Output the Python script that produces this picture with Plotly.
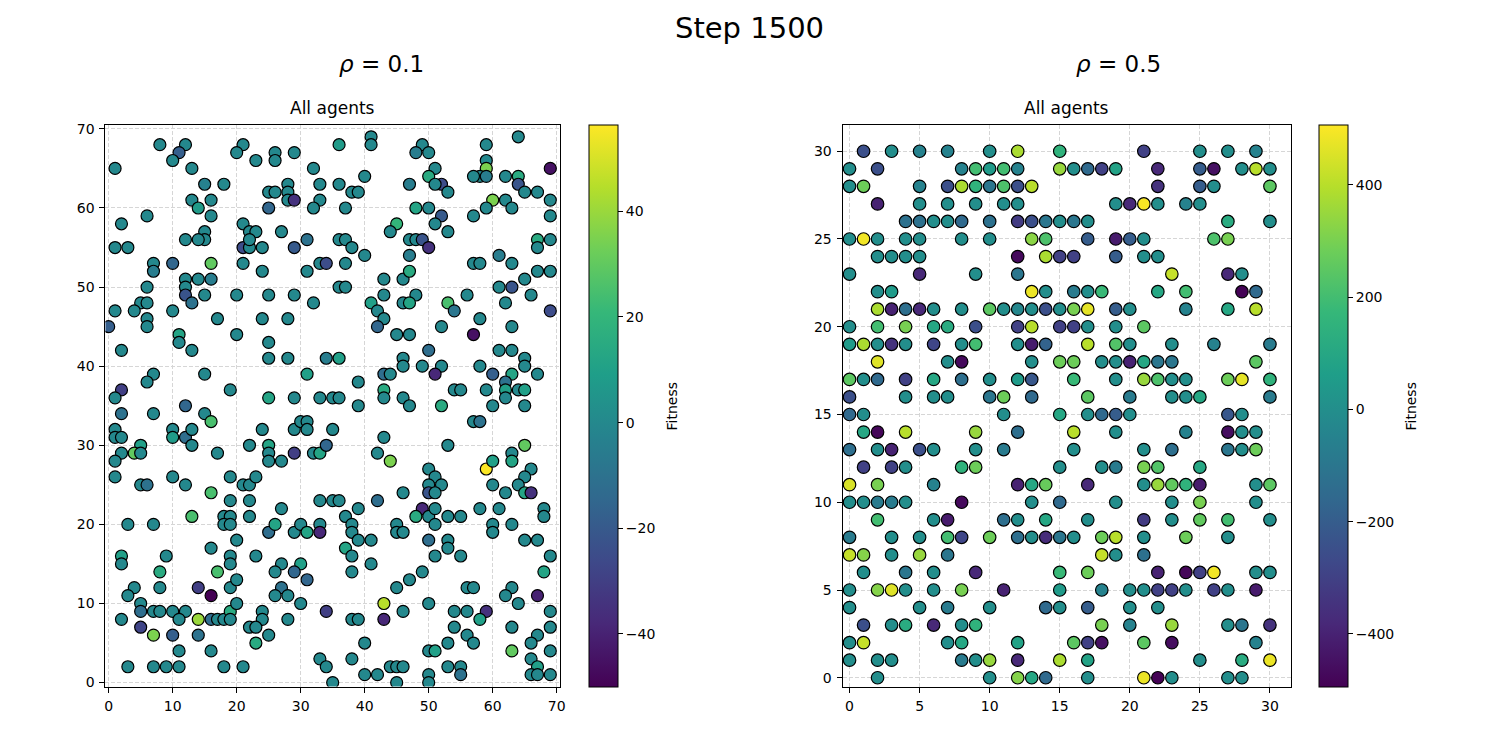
import plotly.graph_objects as go

# Left panel: rho = 0.1, agents on a 71 x 71 grid
# ------------------------------------------------------------------
left_x = [
    8, 12, 11, 10, 1, 13, 21, 20, 23, 26, 26, 29, 32, 15, 18, 25, 26, 28, 28, 28,
    29, 33, 33, 32, 13, 14, 16, 16, 25, 6, 2, 21, 22, 23, 27, 15, 15, 14, 12, 31,
    1, 3, 21, 22, 22, 24, 29, 7, 7, 10, 16, 21, 24, 31, 33, 34, 12, 14, 16, 12,
    12, 13, 15, 6, 5, 6, 4, 1, 6, 6, 10, 0, 20, 25, 29, 32, 17, 24, 28, 11,
    11, 13, 2, 20, 25, 25, 28, 34, 31, 7, 6, 15, 2, 1, 19, 25, 29, 33, 12,
    41, 41, 36, 49, 48, 50, 59, 64, 59, 59, 58, 57, 59, 51, 50, 52, 51, 53, 47, 40,
    36, 38, 39, 62, 64, 64, 65, 67, 69, 69, 69, 60, 62, 63, 59, 57, 37, 48, 50, 52,
    51, 53, 45, 44, 36, 37, 38, 40, 47, 48, 49, 50, 47, 67, 69, 67, 37, 57, 58, 61,
    63, 67, 69, 65, 36, 37, 43, 46, 47, 43, 48, 46, 47, 41, 42, 43, 42, 45, 47, 52,
    53, 54, 56, 58, 57, 61, 63, 66, 62, 63, 69, 36, 46, 46, 50, 49, 52, 51, 43, 44,
    39, 43, 43, 46, 47, 35, 36, 39, 54, 55, 52, 58, 59, 60, 61, 63, 65, 65, 63, 67,
    62, 62, 62, 64, 65, 60, 65,
    2, 7, 15, 16, 1, 1, 2, 10, 10, 12, 13, 13, 5, 4, 5, 2, 1, 1, 5, 6,
    10, 12, 17, 24, 22, 25, 25, 25, 27, 29, 30, 31, 31, 29, 32, 33, 34, 35, 19, 21,
    22, 23, 16, 19, 22, 13, 18, 19, 18, 19, 22, 27, 33, 35, 3, 7, 20, 25, 26, 29,
    30, 31, 33, 33, 2, 2, 9, 16, 19, 19, 23, 8, 17, 27, 30, 26, 29, 31, 4, 3,
    8, 14, 16, 19, 20, 27, 26, 28, 30, 5, 5, 2, 7, 8, 10, 12, 11, 14, 16, 17,
    18, 19, 19, 20, 24, 24, 22, 23, 25, 23, 28, 34, 5, 7, 10, 14, 11, 16, 3, 7,
    9, 11, 18, 21, 33, 34, 35,
    57, 58, 43, 53, 42, 44, 50, 51, 50, 52, 50, 51, 46, 42, 36, 39, 37, 38, 38, 39,
    41, 37, 38, 38, 41, 49, 48, 50, 51, 51, 53, 55, 45, 45, 46, 50, 53, 53, 51, 55,
    58, 61, 60, 60, 63, 65, 67, 68, 68, 69, 68, 59, 60, 60, 62, 63, 63, 65, 66, 65,
    64, 65, 66, 49, 47, 45, 43, 43, 46, 38, 39, 50, 40, 38, 40, 42, 44, 45, 46, 45,
    50, 51, 50, 50, 53, 53, 55, 55, 54, 56, 59, 58, 54, 56, 57, 56, 57, 63, 62, 64,
    67, 69, 63, 69, 67, 66, 63, 69, 66, 67, 66, 67, 69,
]
left_y = [
    68, 68, 67, 66, 65, 65, 68, 67, 66, 67, 66, 67, 65, 63, 63, 62, 62, 63, 62, 61,
    61, 63, 61, 60, 61, 60, 61, 59, 60, 59, 58, 58, 57, 57, 57, 57, 56, 56, 56, 56,
    55, 55, 55, 55, 56, 55, 55, 53, 52, 53, 53, 53, 52, 52, 53, 53, 51, 51, 51, 50,
    49, 48, 49, 50, 48, 48, 47, 47, 46, 45, 47, 45, 49, 49, 49, 48, 46, 46, 46, 44,
    43, 42, 42, 44, 43, 41, 41, 41, 39, 39, 38, 39, 37, 36, 37, 36, 36, 36, 35,
    69, 68, 68, 68, 67, 67, 68, 69, 66, 65, 64, 64, 64, 65, 64, 63, 63, 62, 63, 64,
    63, 62, 62, 64, 64, 63, 62, 62, 65, 61, 59, 61, 61, 60, 60, 59, 60, 60, 60, 59,
    58, 57, 58, 57, 56, 56, 55, 54, 56, 56, 56, 55, 54, 56, 56, 55, 53, 53, 53, 54,
    53, 52, 52, 51, 50, 50, 51, 51, 52, 49, 49, 48, 48, 48, 47, 46, 45, 44, 44, 45,
    48, 47, 49, 46, 44, 50, 50, 49, 48, 45, 47, 41, 41, 40, 42, 40, 40, 39, 39, 39,
    38, 37, 36, 36, 35, 36, 36, 35, 37, 37, 35, 40, 37, 39, 42, 42, 41, 40, 39, 39,
    38, 37, 36, 37, 37, 35, 35,
    34, 34, 34, 33, 32, 31, 31, 32, 31, 31, 32, 30, 30, 29, 29, 29, 28, 26, 25, 25,
    26, 25, 29, 32, 30, 30, 29, 28, 28, 32, 33, 33, 32, 29, 29, 29, 30, 32, 26, 25,
    25, 26, 24, 23, 23, 21, 21, 21, 20, 20, 21, 22, 23, 23, 20, 20, 18, 19, 20, 19,
    20, 19, 20, 19, 16, 15, 16, 17, 16, 15, 16, 14, 14, 15, 15, 14, 14, 13, 12, 11,
    12, 12, 11, 12, 13, 12, 11, 11, 10, 10, 9, 8, 9, 9, 9, 9, 8, 8, 8, 8,
    8, 9, 8, 10, 9, 8, 7, 7, 6, 5, 8, 9, 7, 6, 6, 6, 4, 4, 2, 2,
    2, 2, 2, 2, 3, 2, 0,
    33, 33, 31, 30, 29, 28, 27, 26, 25, 25, 24, 24, 24, 23, 23, 22, 21, 20, 19, 18,
    18, 17, 16, 14, 15, 22, 21, 21, 22, 20, 21, 21, 20, 19, 19, 18, 18, 17, 16, 16,
    22, 22, 20, 19, 20, 18, 18, 22, 21, 16, 14, 27, 28, 25, 24, 29, 28, 30, 27, 26,
    25, 24, 24, 14, 13, 12, 10, 8, 9, 8, 8, 10, 5, 3, 1, 1, 2, 2, 2, 0,
    4, 4, 1, 0, 5, 2, 2, 1, 9, 9, 9, 8, 7, 6, 5, 12, 12, 12, 11, 10,
    11, 9, 7, 7, 6, 5, 4, 4, 3, 2, 1, 1, 1,
]
left_fitness = [
    0, 0, -18, 0, 0, 0, 0, 0, 0, 0, 0, 0, 0, -3, 0, 0, 0, 0, 0, 0,
    -35, 0, 0, 0, 0, 8, 0, 0, -15, 0, 0, 0, 0, 0, 0, 0, 0, 0, 0, -10,
    0, 0, -25, 0, 0, 0, -20, 0, -5, -15, 30, 0, 0, 0, 0, -25, 0, 0, -5, 0,
    -22, -10, 0, 0, 0, 0, 0, 0, 0, 0, 0, -18, 0, 0, 0, 0, 0, 0, 0, 12,
    0, 0, 0, 0, 0, 0, 0, -5, 10, 0, 0, 0, -30, 0, 0, 12, 0, 0, -15,
    0, 0, 8, 0, -5, 0, 0, 0, 0, 35, 0, 0, -5, 0, 15, -25, 0, 0, -5, 0,
    0, 0, 0, 0, 15, -22, 0, 0, -45, 0, 0, 35, 0, 0, 0, 0, 0, 12, 0, -20,
    0, 0, 20, 0, 0, 0, 0, 0, 0, 0, -22, -35, -5, 15, 0, 0, 0, 0, 0, -5,
    0, 0, 0, 0, 0, 0, 0, 0, 15, 0, 0, 0, 12, 10, 0, 0, -15, 0, 0, 0,
    25, -8, 0, 0, -45, 0, -22, 0, 0, 0, -25, 10, 0, 0, -12, 0, 0, -38, -12, 0,
    0, 15, 0, 0, 0, 0, 0, 0, 0, 0, 15, 0, 0, -18, 0, 0, 0, 0, 12, 0,
    -10, 10, 0, 0, 10, 0, 0,
    -10, 0, 0, 25, 0, 0, 0, 0, 8, -12, 0, 0, 10, 30, 0, 0, 0, 0, 0, -10,
    0, 0, 0, 0, 0, 12, 0, 0, 0, 0, 0, 0, 0, -30, 0, 12, -15, 0, 0, 0,
    0, 0, 25, 0, 0, 25, 0, 0, 0, 0, 0, 0, 0, 0, 0, 0, 0, -12, 12, 0,
    0, 12, 0, -38, 10, 0, 0, 0, 0, 0, 0, 15, 25, 0, 10, 0, -15, -15, 0, 0,
    0, -30, -50, 0, 0, -10, 0, 0, 0, 0, -12, 0, 0, 0, 0, 0, 0, 40, -12, 0,
    0, 15, 0, 0, 0, 0, 0, 0, 0, 15, 0, -30, -28, 35, -18, -10, 0, 0, 0, 0,
    0, 0, 0, 0, 0, 0, 0,
    0, -10, 0, 0, 0, 35, 0, 0, 0, 0, -22, 0, 0, -12, 0, 0, 0, 0, 0, 0,
    0, 12, 0, 0, 0, -38, 15, 0, 0, 0, 0, 0, 0, 0, 0, -12, 0, 0, 0, 0,
    0, 0, 0, 0, 0, 0, 0, 0, 0, 0, 12, 56, 10, 0, 0, 0, 12, 30, 0, 0,
    0, 12, -35, 0, 0, 0, 45, -38, 0, 0, 0, 0, 0, 0, 0, 0, 0, 0, 0, 0,
    0, 10, 0, 0, 0, 0, 0, -10, 0, 0, -35, 10, 0, 0, 0, 0, 0, 0, 0, 0,
    -40, 0, 0, 0, 0, 0, 30, 0, 0, 10, 0, 0, 0,
]

# Right panel: rho = 0.5, agents on a 31 x 31 grid (one line per row, top to bottom)
# ------------------------------------------------------------------
right_x = [
    1, 3, 5, 7, 10, 12, 15, 21, 25, 27, 29,
    0, 2, 8, 9, 10, 11, 12, 15, 16, 17, 18, 19, 22, 25, 26, 28, 29, 30,
    0, 1, 5, 7, 8, 9, 10, 11, 12, 13, 22, 25, 26, 30,
    2, 5, 7, 9, 11, 12, 19, 20, 21, 22, 24, 25,
    4, 5, 6, 7, 8, 10, 12, 13, 14, 15, 16, 17, 27, 30,
    0, 1, 2, 4, 5, 8, 10, 13, 14, 17, 19, 20, 21, 26, 27,
    2, 3, 4, 5, 12, 14, 15, 16, 19, 21, 22,
    0, 5, 9, 12, 23, 27, 28,
    2, 3, 13, 14, 16, 17, 18, 22, 24, 28, 29,
    2, 3, 4, 5, 6, 8, 10, 11, 12, 13, 14, 15, 16, 17, 19, 20, 24, 27, 29,
    0, 2, 4, 6, 7, 9, 12, 13, 15, 16, 17, 19, 21,
    0, 1, 2, 3, 4, 6, 8, 9, 12, 13, 14, 17, 19, 20, 23, 26, 30,
    2, 7, 8, 13, 15, 16, 18, 19, 20, 21, 22, 23, 29,
    0, 1, 2, 4, 6, 8, 10, 12, 13, 16, 19, 21, 22, 23, 24, 27, 28, 30,
    0, 4, 6, 7, 10, 11, 13, 17, 20, 23, 24, 25, 30,
    0, 1, 11, 15, 17, 18, 19, 20, 27, 28,
    1, 2, 4, 9, 12, 16, 19, 24, 27, 28, 29,
    0, 2, 3, 5, 6, 9, 11, 16, 21, 23, 27, 28, 29,
    1, 3, 4, 8, 9, 15, 18, 19, 21, 22, 25,
    0, 2, 6, 12, 13, 14, 17, 21, 22, 23, 24, 25, 29, 30,
    0, 1, 2, 3, 4, 8, 13, 15, 19, 23, 25, 29,
    2, 6, 7, 11, 12, 14, 17, 21, 23, 25, 27, 30,
    0, 3, 5, 7, 8, 10, 12, 13, 14, 15, 16, 18, 19, 21, 24, 27,
    0, 1, 3, 5, 7, 18, 19, 21,
    1, 4, 6, 9, 15, 17, 22, 24, 25, 26, 29, 30,
    0, 2, 3, 4, 6, 8, 11, 15, 18, 20, 21, 22, 23, 24, 26, 27, 29,
    0, 5, 7, 10, 14, 15, 17, 20, 22,
    1, 3, 4, 6, 8, 9, 18, 20, 23, 27, 28, 30,
    0, 1, 7, 8, 12, 16, 17, 18, 21, 23, 29,
    0, 2, 3, 8, 9, 10, 12, 15, 17, 25, 28, 30,
    2, 10, 12, 13, 14, 17, 21, 22, 23, 27, 28,
]
right_y = [
    30, 30, 30, 30, 30, 30, 30, 30, 30, 30, 30,
    29, 29, 29, 29, 29, 29, 29, 29, 29, 29, 29, 29, 29, 29, 29, 29, 29, 29,
    28, 28, 28, 28, 28, 28, 28, 28, 28, 28, 28, 28, 28, 28,
    27, 27, 27, 27, 27, 27, 27, 27, 27, 27, 27, 27,
    26, 26, 26, 26, 26, 26, 26, 26, 26, 26, 26, 26, 26, 26,
    25, 25, 25, 25, 25, 25, 25, 25, 25, 25, 25, 25, 25, 25, 25,
    24, 24, 24, 24, 24, 24, 24, 24, 24, 24, 24,
    23, 23, 23, 23, 23, 23, 23,
    22, 22, 22, 22, 22, 22, 22, 22, 22, 22, 22,
    21, 21, 21, 21, 21, 21, 21, 21, 21, 21, 21, 21, 21, 21, 21, 21, 21, 21, 21,
    20, 20, 20, 20, 20, 20, 20, 20, 20, 20, 20, 20, 20,
    19, 19, 19, 19, 19, 19, 19, 19, 19, 19, 19, 19, 19, 19, 19, 19, 19,
    18, 18, 18, 18, 18, 18, 18, 18, 18, 18, 18, 18, 18,
    17, 17, 17, 17, 17, 17, 17, 17, 17, 17, 17, 17, 17, 17, 17, 17, 17, 17,
    16, 16, 16, 16, 16, 16, 16, 16, 16, 16, 16, 16, 16,
    15, 15, 15, 15, 15, 15, 15, 15, 15, 15,
    14, 14, 14, 14, 14, 14, 14, 14, 14, 14, 14,
    13, 13, 13, 13, 13, 13, 13, 13, 13, 13, 13, 13, 13,
    12, 12, 12, 12, 12, 12, 12, 12, 12, 12, 12,
    11, 11, 11, 11, 11, 11, 11, 11, 11, 11, 11, 11, 11, 11,
    10, 10, 10, 10, 10, 10, 10, 10, 10, 10, 10, 10,
    9, 9, 9, 9, 9, 9, 9, 9, 9, 9, 9, 9,
    8, 8, 8, 8, 8, 8, 8, 8, 8, 8, 8, 8, 8, 8, 8, 8,
    7, 7, 7, 7, 7, 7, 7, 7,
    6, 6, 6, 6, 6, 6, 6, 6, 6, 6, 6, 6,
    5, 5, 5, 5, 5, 5, 5, 5, 5, 5, 5, 5, 5, 5, 5, 5, 5,
    4, 4, 4, 4, 4, 4, 4, 4, 4,
    3, 3, 3, 3, 3, 3, 3, 3, 3, 3, 3, 3,
    2, 2, 2, 2, 2, 2, 2, 2, 2, 2, 2,
    1, 1, 1, 1, 1, 1, 1, 1, 1, 1, 1, 1,
    0, 0, 0, 0, 0, 0, 0, 0, 0, 0, 0,
]
right_fitness = [
    -250, 0, -50, -50, 0, 380, 150, -300, 0, 0, -50,
    0, -250, -50, 200, 50, 200, -50, 350, 0, -150, -300, 80, -380, -200, -450, 0, 400, 0,
    0, 280, -50, -250, 380, 150, -100, 220, -250, 400, -350, -200, 0, 250,
    -400, 0, 0, 0, 0, 0, 0, -380, 500, 0, -50, 0,
    -120, -120, 0, 0, -150, -120, -320, -250, -100, 0, -100, 0, 120, 0,
    0, 490, 0, 0, 0, 0, 0, 330, 220, -200, -420, -200, 0, 220, 300,
    0, 0, 0, 0, -470, 380, -300, -300, -200, 0, 0,
    0, -380, 0, -100, 420, -380, 0,
    0, 50, 480, 0, -80, 0, 180, 100, 200, -490, -150,
    380, -400, -130, -380, 0, 0, 250, 0, -30, 0, -250, 0, 300, 470, -200, 0, -50, 100, 400,
    0, 200, 300, 100, 120, -250, -300, 400, -300, -300, 0, 0, 250,
    50, 380, 0, -350, 0, -280, 0, 200, 0, -420, -180, 400, 230, 0, 0, -50, -80,
    460, 0, -470, 0, 280, 280, 0, 0, -400, 100, -100, -100, 250,
    250, 0, -150, -300, 100, -130, 0, 50, -220, 180, 0, 350, 220, 0, 0, 280, 470, 150,
    -250, 0, 0, 0, -100, 280, -150, 250, -80, 0, 0, 100, -80,
    -150, 0, 0, 100, 0, -150, -200, 0, -220, 0,
    100, -480, 400, 350, -130, 400, 0, -50, -460, 0, 0,
    -130, 0, -400, -250, 0, 0, -80, 0, 0, -130, -100, 0, 280,
    -300, -300, 0, 150, 280, 0, 0, -80, 300, 230, 100,
    450, 300, -50, -400, 100, 270, -380, 0, 350, 260, 150, -420, 0, 250,
    0, 0, -80, -80, 0, -470, 0, -150, 0, 0, 300, 0,
    200, 0, -420, -130, 0, 100, 0, -320, 0, 260, 200, 0,
    -80, 0, 0, 200, -280, 280, -130, 0, -370, -100, 0, 280, 400, 0, 280, 0,
    420, 320, 0, 350, -100, 420, 0, -120,
    0, -100, 0, -380, 180, 280, -400, -480, -300, 490, 0, 0,
    0, 320, 460, 0, 0, 300, -400, 50, -50, 0, 0, -300, -300, 0, -300, 0, -420,
    0, 0, -80, 0, -150, 0, -200, 0, 0,
    -250, 0, 120, -380, 0, 150, 300, -50, 350, 0, -100, -350,
    0, 420, 0, 100, 80, 250, -300, -450, 250, -460, -50,
    0, 0, 0, -80, 0, 350, -380, 380, 80, 0, 120, 480,
    0, 0, 320, 100, -150, 0, 480, -490, 0, 0, 0,
]

# colour limits
left_fit_limits = (-50, 56.4)
right_fit_limits = (-494, 507)

assert len(left_x) == len(left_y) == len(left_fitness), (len(left_x), len(left_y), len(left_fitness))
assert len(right_x) == len(right_y) == len(right_fitness), (len(right_x), len(right_y), len(right_fitness))

W, H = 1500, 750
FONT = "DejaVu Sans"

# the captured page comes out very slightly squeezed, so target pixel
# positions (measured on the reference) are stretched back a touch
SX, SY, OY = 0.9966, 0.99, 2.0


def px_x(p):
    return (p - 0.4) / SX / W


def px_y(p):
    return 1 - (p - OY) / SY / H


plot_top, plot_bottom = 123, 685
y_dom = [px_y(plot_bottom), px_y(plot_top)]
cb_len = y_dom[1] - y_dom[0]
cb_mid = (y_dom[0] + y_dom[1]) / 2


def colorbar(x_px, tickvals):
    return dict(
        x=px_x(x_px), xanchor="left", y=cb_mid, yanchor="middle",
        len=cb_len, lenmode="fraction", thickness=28.5, thicknessmode="pixels",
        xpad=0, ypad=0, outlinewidth=1, outlinecolor="black",
        ticks="outside", ticklen=5, tickwidth=1, tickcolor="black",
        tickvals=tickvals, tickfont=dict(family=FONT, size=14, color="black"),
    )


def axis(domain, rng, dtick, anchor):
    return dict(
        domain=domain, range=rng, tick0=0, dtick=dtick, anchor=anchor,
        showline=True, mirror=True, linecolor="black", linewidth=1,
        ticks="outside", ticklen=5, tickwidth=1, tickcolor="black",
        ticklabelstandoff=2,
        showgrid=True, gridcolor="#d6d6d6", gridwidth=1, griddash="4px,2px",
        zeroline=False, tickfont=dict(family=FONT, size=14, color="black"),
    )


fig = go.Figure()

fig.add_trace(go.Scatter(
    x=left_x, y=left_y, mode="markers", xaxis="x", yaxis="y", showlegend=False,
    marker=dict(
        color=left_fitness, colorscale="Viridis",
        cmin=left_fit_limits[0], cmax=left_fit_limits[1],
        size=12, line=dict(color="black", width=1.2),
        colorbar=colorbar(589.5, [-40, -20, 0, 20, 40]),
    ),
))

fig.add_trace(go.Scatter(
    x=right_x, y=right_y, mode="markers", xaxis="x2", yaxis="y2", showlegend=False,
    marker=dict(
        color=right_fitness, colorscale="Viridis",
        cmin=right_fit_limits[0], cmax=right_fit_limits[1],
        size=12.5, line=dict(color="black", width=1.2),
        colorbar=colorbar(1320, [-400, -200, 0, 200, 400]),
    ),
))

left_dom = [px_x(105), px_x(560)]
right_dom = [px_x(843), px_x(1292)]

fig.update_layout(
    width=W, height=H,
    margin=dict(l=0, r=0, t=0, b=0),
    paper_bgcolor="white", plot_bgcolor="white",
    font=dict(family=FONT, color="black"),
    xaxis=axis(left_dom, [-0.5, 70.5], 10, "y"),
    yaxis=axis(y_dom, [-0.5, 70.5], 10, "x"),
    xaxis2=axis(right_dom, [-0.5, 31.5], 5, "y2"),
    yaxis2=axis(y_dom, [-0.5, 31.5], 5, "x2"),
)

texts = [
    ("Step 1500", 750, 26, 29, 0),
    ("<i>ρ</i> = 0.1", 381, 62, 23, 0),
    ("<i>ρ</i> = 0.5", 1119, 62, 23, 0),
    ("All agents", 332.5, 106, 17, 0),
    ("All agents", 1067.5, 106, 17, 0),
    ("Fitness", 672, 404, 14, -90),
    ("Fitness", 1412, 404, 14, -90),
]
for txt, xp, yp, size, angle in texts:
    fig.add_annotation(
        text=txt, x=px_x(xp), y=px_y(yp), xref="paper", yref="paper",
        xanchor="center", yanchor="middle", showarrow=False, textangle=angle,
        font=dict(family=FONT, size=size, color="black"),
    )

# the page body has a default margin; drop it (and any overflow) so the
# 1500x750 figure fills the window exactly
page_fix = (
    "document.documentElement.style.margin = '0px';"
    "document.documentElement.style.overflow = 'hidden';"
    "document.body.style.margin = '0px';"
    "document.body.style.overflow = 'hidden';"
)
fig.write_html("out.html", config={"displayModeBar": False}, post_script=page_fix)
